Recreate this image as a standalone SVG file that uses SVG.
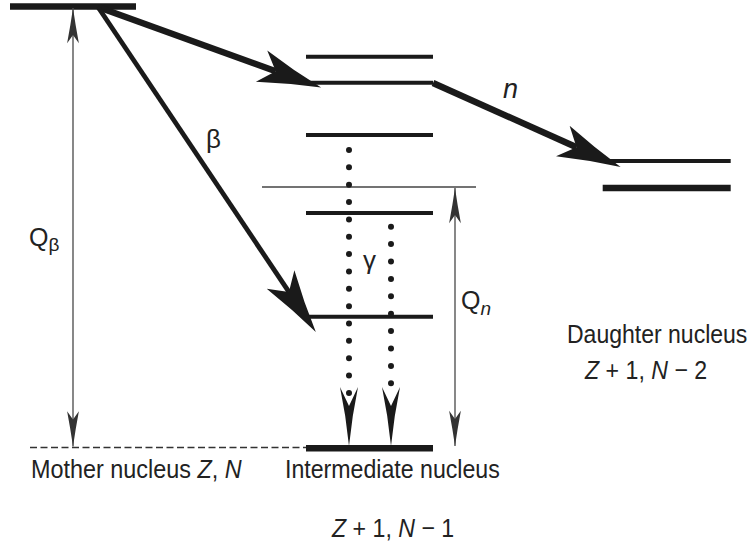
<svg xmlns="http://www.w3.org/2000/svg" xmlns:xlink="http://www.w3.org/1999/xlink" width="753" height="547" viewBox="0 0 753 547">
<style>
  .lvl { stroke: #1a1a1a; stroke-width: 4; fill: none; }
  .thick { stroke-width: 6.5; }
  .thin { stroke: #444; stroke-width: 1.3; fill: none; }
  .dash { stroke: #333; stroke-width: 1.6; stroke-dasharray: 7 3.5; fill: none; }
  .big { stroke: #1a1a1a; fill: none; stroke-linecap: butt; marker-end: url(#bighead); }
  .dots { stroke: #1a1a1a; stroke-width: 6; stroke-linecap: round; fill: none; }
  .q { stroke: #555; stroke-width: 1.4; fill: none; marker-start: url(#qhead); marker-end: url(#qhead); }
  text { font-family: "Liberation Sans", Arial, sans-serif; fill: #222; }
  .lab { font-size: 26px; }
  .sym { font-size: 26px; }
  .it { font-style: italic; }
</style>
<defs>
  <marker id="bighead" markerUnits="userSpaceOnUse" orient="auto" refX="0" refY="0" markerWidth="80" markerHeight="40" viewBox="-12 -12 44 24" overflow="visible">
    <path d="M29,0 Q10,-4 -9,-10 L0,0 L-9,10 Q10,4 29,0 Z" fill="#1a1a1a"/>
  </marker>
  <marker id="qhead" markerUnits="userSpaceOnUse" orient="auto-start-reverse" refX="0" refY="0" markerWidth="40" markerHeight="20" viewBox="-32 -6 34 12" overflow="visible">
    <path d="M0,0 Q-14,-2 -30,-5 L-23,0 L-30,5 Q-14,2 0,0 Z" fill="#333"/>
  </marker>
  <path id="ghead" d="M0,0 Q-3,-30 -9,-59 L0,-40 L9,-59 Q3,-30 0,0 Z" fill="#1a1a1a"/>
</defs>

<g id="mother">
  <line class="lvl thick" x1="10" y1="6.5" x2="136" y2="6.5" stroke-width="5.5"/>
  <line class="dash" x1="30" y1="447.5" x2="306" y2="447.5"/>
  <text class="lab" transform="translate(31,478) scale(0.9,1)">Mother nucleus <tspan class="it">Z</tspan>, <tspan class="it">N</tspan></text>
</g>

<g id="intermediate">
  <line class="lvl" x1="306" y1="56.7" x2="433" y2="56.7"/>
  <line class="lvl" x1="306" y1="82.7" x2="433" y2="82.7"/>
  <line class="lvl" x1="306" y1="135" x2="433" y2="135"/>
  <line class="lvl" x1="306" y1="213" x2="433" y2="213"/>
  <line class="lvl" x1="306" y1="316.7" x2="433" y2="316.7"/>
  <line class="lvl thick" x1="306" y1="448.3" x2="433" y2="448.3"/>
  <line class="thin" x1="262" y1="187" x2="476" y2="187"/>
  <text class="lab" transform="translate(285,478) scale(0.89,1)">Intermediate nucleus</text>
  <text class="lab" transform="translate(332,537) scale(0.89,1)"><tspan class="it">Z</tspan> + 1, <tspan class="it">N</tspan> − 1</text>
</g>

<g id="daughter">
  <line class="lvl" x1="602.7" y1="161" x2="730.7" y2="161"/>
  <line class="lvl thick" x1="602.7" y1="188" x2="730.7" y2="188"/>
  <text class="lab" transform="translate(567,343) scale(0.885,1)">Daughter nucleus</text>
  <text class="lab" transform="translate(585,379) scale(0.89,1)"><tspan class="it">Z</tspan> + 1, <tspan class="it">N</tspan> − 2</text>
</g>

<g id="connectors">
  <line class="big" x1="98" y1="7" x2="275.7" y2="71.2" stroke-width="6.5"/>
  <line class="big" x1="98" y1="7" x2="288.9" y2="291.9" stroke-width="4.8"/>
  <line class="big" x1="433" y1="83" x2="576.5" y2="147.2" stroke-width="6.5"/>
  <line class="q" x1="73" y1="8" x2="73" y2="446.5"/>
  <line class="q" x1="455" y1="188" x2="455" y2="446"/>
  <line class="dots" x1="349" y1="150" x2="349" y2="393" stroke-dasharray="0 17.35"/>
  <line class="dots" x1="391" y1="226.7" x2="391" y2="383.4" stroke-dasharray="0 17.4"/>
  <use xlink:href="#ghead" x="349" y="446"/>
  <use xlink:href="#ghead" x="391" y="446"/>
  <text class="sym" x="206" y="148">β</text>
  <text class="sym" x="363" y="269">γ</text>
  <text class="it" x="503" y="98" font-size="27">n</text>
  <text x="29" y="246" font-size="25">Q<tspan font-size="19" dy="5">β</tspan></text>
  <text x="461" y="309" font-size="25">Q<tspan class="it" font-size="19" dy="6">n</tspan></text>
</g>
</svg>
